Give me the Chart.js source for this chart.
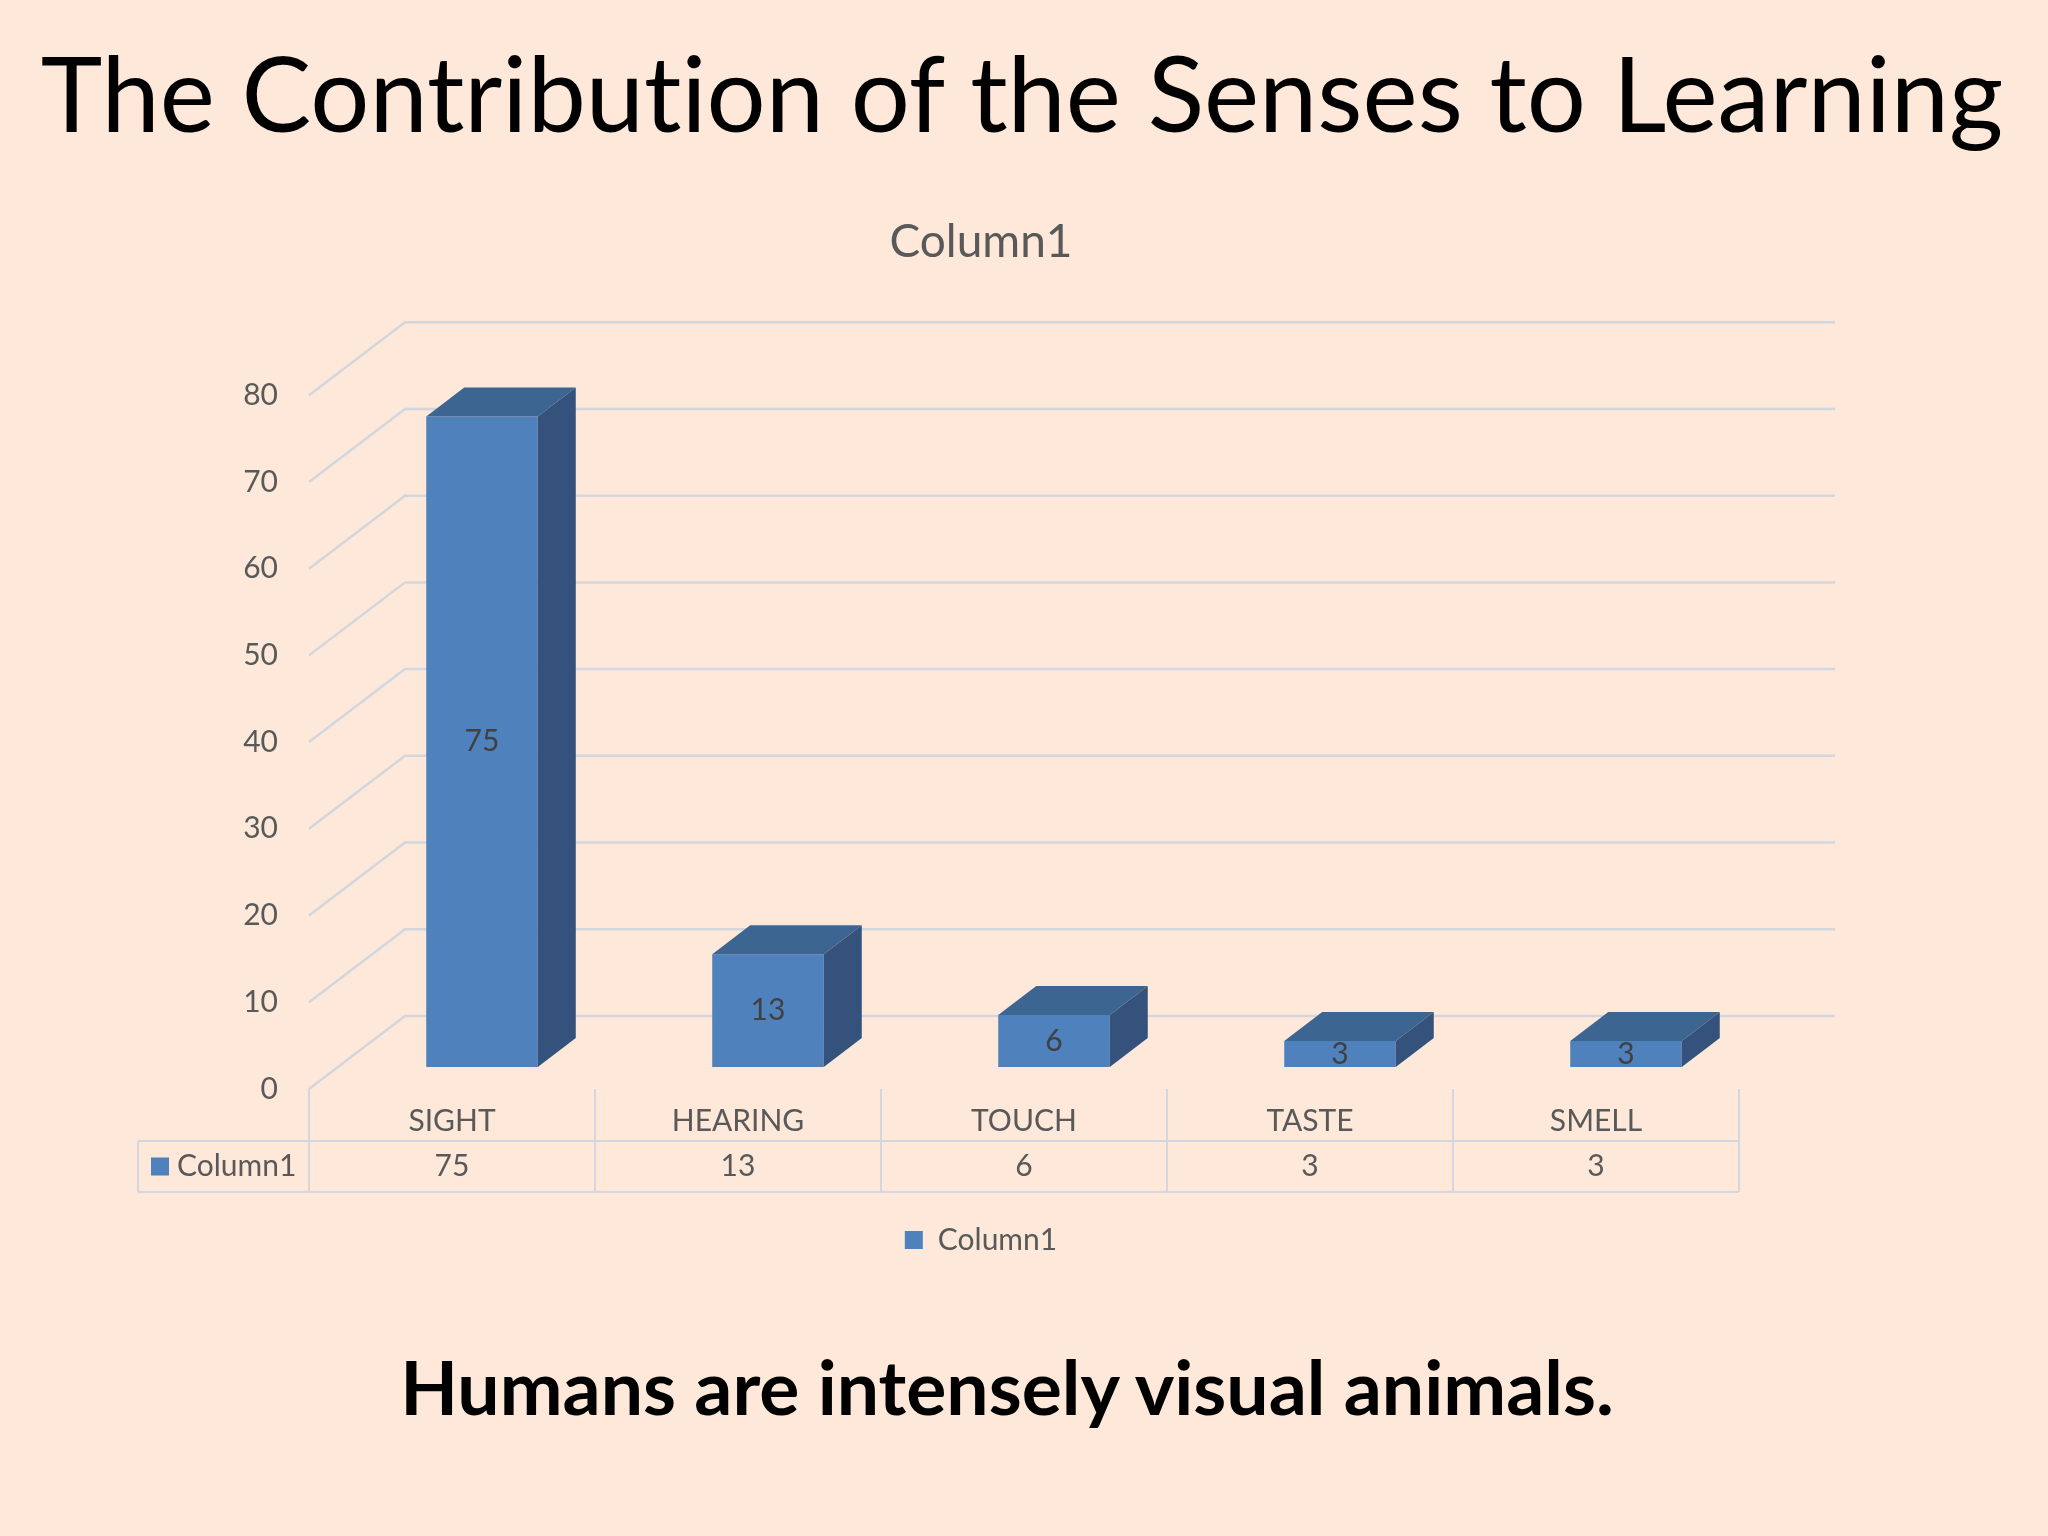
<!DOCTYPE html>
<html>
<head>
<meta charset="utf-8">
<script src="https://cdn.jsdelivr.net/npm/chart.js@4.4.1/dist/chart.umd.min.js"></script>
<style>
  html, body { margin: 0; padding: 0; background: #FDE8D9; }
  #slide { position: relative; width: 2048px; height: 1536px; overflow: hidden; }
  #chart-wrap { position: absolute; left: 0; top: 0; width: 2048px; height: 1536px; }
  .slide-text { position: absolute; left: 0; width: 2048px; text-align: center; white-space: nowrap; line-height: 1; color: #000;
                font-family: Lato, "Open Sans", sans-serif; font-variant-ligatures: none; font-feature-settings: "liga" 0; }
</style>
</head>
<body>
<div id="slide">
  <div id="chart-wrap"><canvas id="senses-chart" width="2048" height="1536"></canvas></div>
  <div id="slide-title" class="slide-text">The Contribution of the Senses to Learning</div>
  <div id="slide-footer" class="slide-text" style="font-weight:bold;">Humans are intensely visual animals.</div>
</div>
<script>
// ── Data ──
const senses = ['SIGHT', 'HEARING', 'TOUCH', 'TASTE', 'SMELL'];
const column1 = [75, 13, 6, 3, 3];
const seriesName = 'Column1';
const yTicks = [0, 10, 20, 30, 40, 50, 60, 70, 80];

// ── Look ──
const FONT = 'Lato, "Open Sans", sans-serif';
const TEXT_GRAY = '#595959';
const GRID = '#d3d6dd';
const FRONT = '#4F81BD';
const TOP = '#3D6592';
const SIDE = '#34527B';
const BAR_DX = 38, BAR_DY = -29;      // depth of each box
const FRONT_DX = -30, FRONT_DY = 22;  // front edge of the floor vs. the bars
const WALL_DX = 96, WALL_DY = -73;    // back wall vs. front edge

// fit a line of slide text to a given width, baseline at given y
function fitText(id, weight, width, centerX, baseline) {
    const el = document.getElementById(id);
    const ctx = document.createElement('canvas').getContext('2d');
    ctx.font = `${weight} 100px Lato`;
    const size = 100 * width / ctx.measureText(el.textContent).width;
    el.style.fontSize = size.toFixed(1) + 'px';
    el.style.left = (centerX - 1024) + 'px';
    el.style.top = (baseline - 0.887 * size).toFixed(1) + 'px';
}
fitText('slide-title', 'normal', 1966, 1022, 133);
fitText('slide-footer', 'bold', 1217, 1007, 1416);

// ── 3D look: walls, box faces, table ──
const boxPlugin = {
    id: 'boxes',
    beforeDatasetsDraw(chart) {
        const { ctx, chartArea, scales: { y } } = chart;
        const fl = chartArea.left + FRONT_DX;
        const fr = chartArea.right + FRONT_DX;
        ctx.save();
        ctx.strokeStyle = GRID;
        ctx.lineWidth = 2.5;
        yTicks.forEach(v => {
            const py = y.getPixelForValue(v) + FRONT_DY;
            ctx.beginPath();
            ctx.moveTo(fl, py);
            ctx.lineTo(fl + WALL_DX, py + WALL_DY);
            ctx.lineTo(fr + WALL_DX, py + WALL_DY);
            ctx.stroke();
        });
        ctx.restore();
    },
    afterDatasetsDraw(chart) {
        const { ctx } = chart;
        const bars = chart.getDatasetMeta(0).data;
        ctx.save();
        bars.forEach((bar, i) => {
            const x0 = bar.x - bar.width / 2, x1 = bar.x + bar.width / 2;
            const top = bar.y, base = bar.base;
            ctx.fillStyle = TOP;
            ctx.beginPath();
            ctx.moveTo(x0, top); ctx.lineTo(x1, top);
            ctx.lineTo(x1 + BAR_DX, top + BAR_DY); ctx.lineTo(x0 + BAR_DX, top + BAR_DY);
            ctx.closePath(); ctx.fill();
            ctx.fillStyle = SIDE;
            ctx.beginPath();
            ctx.moveTo(x1, top); ctx.lineTo(x1 + BAR_DX, top + BAR_DY);
            ctx.lineTo(x1 + BAR_DX, base + BAR_DY); ctx.lineTo(x1, base);
            ctx.closePath(); ctx.fill();
            // value label on the front face
            ctx.fillStyle = '#404040';
            ctx.font = `30px ${FONT}`;
            ctx.textAlign = 'center';
            ctx.textBaseline = 'middle';
            ctx.fillText(String(column1[i]), bar.x, (top + base) / 2);
        });
        ctx.restore();
    },
    afterDraw(chart) {
        const { ctx, chartArea, scales: { x, y } } = chart;
        const half = (x.getPixelForValue(1) - x.getPixelForValue(0)) / 2;
        const topY = y.getPixelForValue(0) + FRONT_DY;
        const midY = topY + 52, botY = topY + 103;
        const keyLeft = chartArea.left + FRONT_DX - 171;
        const right = chartArea.right + FRONT_DX;
        ctx.save();
        ctx.strokeStyle = GRID;
        ctx.lineWidth = 2;
        ctx.beginPath();
        ctx.moveTo(keyLeft, midY); ctx.lineTo(right, midY);
        ctx.moveTo(keyLeft, botY); ctx.lineTo(right, botY);
        ctx.moveTo(keyLeft, midY); ctx.lineTo(keyLeft, botY);
        for (let i = 0; i <= senses.length; i++) {
            const cx = x.getPixelForValue(i) + FRONT_DX - half;
            ctx.moveTo(cx, topY); ctx.lineTo(cx, botY);
        }
        ctx.stroke();
        ctx.font = `30px ${FONT}`;
        ctx.fillStyle = TEXT_GRAY;
        ctx.textAlign = 'center';
        ctx.textBaseline = 'middle';
        const rowY = (midY + botY) / 2;
        column1.forEach((v, i) => ctx.fillText(String(v), x.getPixelForValue(i) + FRONT_DX, rowY));
        ctx.fillStyle = FRONT;
        ctx.fillRect(keyLeft + 13, rowY - 9, 18, 18);
        ctx.fillStyle = TEXT_GRAY;
        ctx.textAlign = 'left';
        ctx.fillText(seriesName, keyLeft + 39, rowY);
        ctx.restore();
    }
};

new Chart(document.getElementById('senses-chart'), {
    type: 'bar',
    data: {
        labels: senses,
        datasets: [{
            label: seriesName,
            data: column1,
            backgroundColor: FRONT,
            borderWidth: 0,
            categoryPercentage: 1,
            barPercentage: 0.39
        }]
    },
    options: {
        responsive: false,
        animation: false,
        layout: { padding: { left: 193, right: 279, top: 0, bottom: 271 } },
        scales: {
            y: {
                min: 0, max: 80,
                afterFit: s => { s.width = 146; },
                afterBuildTicks: s => { s.ticks = yTicks.map(v => ({ value: v })); },
                grid: { display: false, drawTicks: false },
                border: { display: false },
                ticks: { padding: 61, labelOffset: FRONT_DY, color: TEXT_GRAY, font: { family: FONT, size: 30 } }
            },
            x: {
                afterFit: s => { s.height = 125; },
                grid: { display: false, drawTicks: false },
                border: { display: false },
                ticks: { padding: 36, labelOffset: FRONT_DX, color: TEXT_GRAY, font: { family: FONT, size: 30 } }
            }
        },
        plugins: {
            title: {
                display: true,
                text: seriesName,
                color: TEXT_GRAY,
                font: { family: FONT, size: 46, weight: 'normal', lineHeight: 1.2 },
                padding: { top: 215, bottom: 103 }
            },
            legend: {
                position: 'bottom',
                labels: { boxWidth: 18, boxHeight: 18, padding: 33, color: TEXT_GRAY, font: { family: FONT, size: 30 } }
            },
            tooltip: { enabled: false }
        }
    },
    plugins: [boxPlugin]
});
</script>
</body>
</html>
